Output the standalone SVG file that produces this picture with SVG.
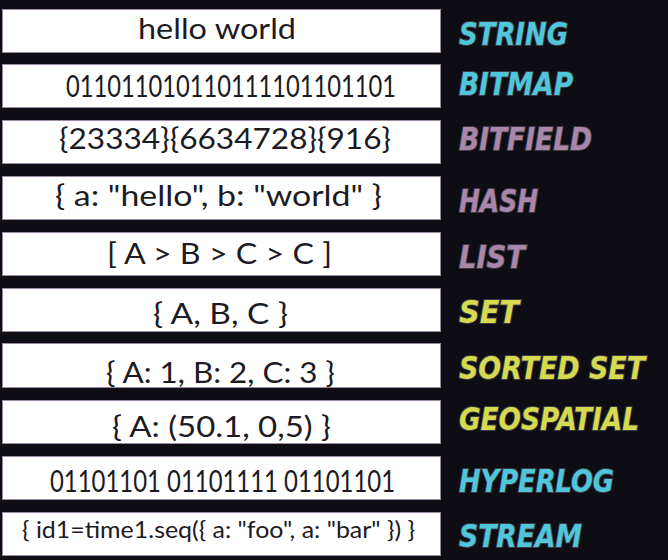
<svg xmlns="http://www.w3.org/2000/svg" width="668" height="560" viewBox="0 0 668 560">
<style>
.box{fill:#ffffff;stroke:#9c8aa2;stroke-width:1}
.val{font-family:"Lato","Liberation Sans",sans-serif;font-size:29px;fill:#1c1a22}
.dig{font-size:27px}
.sm{font-size:23px}
.lab{font-family:"DejaVu Sans Condensed","Liberation Sans Narrow",sans-serif;font-weight:bold;font-style:italic;font-size:32px;stroke:#3c3a46;stroke-width:2;paint-order:stroke}
.cy{fill:#4fc6d9}.mv{fill:#a987a9}.yl{fill:#d6da4e}
</style>
<rect width="668" height="560" fill="#0e0d14"/>
<g id="string"><rect class="box" x="2.5" y="9.5" width="438" height="43"/><text class="val" x="138" y="39" textLength="158" lengthAdjust="spacingAndGlyphs">hello world</text><text class="lab cy" x="459" y="45" textLength="109" lengthAdjust="spacingAndGlyphs">STRING</text></g>
<g id="bitmap"><rect class="box" x="2.5" y="64.5" width="438" height="43"/><text class="val dig" x="66" y="97" transform="translate(0,97) scale(1,1.15) translate(0,-97)" textLength="330" lengthAdjust="spacingAndGlyphs">011011010110111101101101</text><text class="lab cy" x="459" y="95" textLength="114" lengthAdjust="spacingAndGlyphs">BITMAP</text></g>
<g id="bitfield"><rect class="box" x="2.5" y="120.5" width="438" height="43"/><text class="val" x="59" y="149" textLength="332" lengthAdjust="spacingAndGlyphs">{23334}{6634728}{916}</text><text class="lab mv" x="459" y="150" textLength="133" lengthAdjust="spacingAndGlyphs">BITFIELD</text></g>
<g id="hash"><rect class="box" x="2.5" y="176.5" width="438" height="43"/><text class="val" x="55" y="206" textLength="327" lengthAdjust="spacingAndGlyphs">{ a: "hello", b: "world" }</text><text class="lab mv" x="459" y="212" textLength="79" lengthAdjust="spacingAndGlyphs">HASH</text></g>
<g id="list"><rect class="box" x="2.5" y="232.5" width="438" height="43"/><text class="val" x="107" y="264" textLength="225" lengthAdjust="spacingAndGlyphs">[ A &gt; B &gt; C &gt; C ]</text><text class="lab mv" x="459" y="268" textLength="66" lengthAdjust="spacingAndGlyphs">LIST</text></g>
<g id="set"><rect class="box" x="2.5" y="288.5" width="438" height="43"/><text class="val" x="153" y="324" textLength="135" lengthAdjust="spacingAndGlyphs">{ A, B, C }</text><text class="lab yl" x="459" y="323" textLength="60" lengthAdjust="spacingAndGlyphs">SET</text></g>
<g id="sortedset"><rect class="box" x="2.5" y="343.5" width="438" height="44"/><text class="val" x="106" y="383" textLength="229" lengthAdjust="spacingAndGlyphs">{ A: 1, B: 2, C: 3 }</text><text class="lab yl" x="459" y="379" textLength="186" lengthAdjust="spacingAndGlyphs">SORTED SET</text></g>
<g id="geospatial"><rect class="box" x="2.5" y="400.5" width="438" height="43"/><text class="val" x="112" y="437" textLength="219" lengthAdjust="spacingAndGlyphs">{ A: (50.1, 0,5) }</text><text class="lab yl" x="459" y="430" textLength="180" lengthAdjust="spacingAndGlyphs">GEOSPATIAL</text></g>
<g id="hyperlog"><rect class="box" x="2.5" y="456.5" width="438" height="43"/><text class="val dig" x="50" y="492" transform="translate(0,492) scale(1,1.15) translate(0,-492)" textLength="345" lengthAdjust="spacingAndGlyphs">01101101 01101111 01101101</text><text class="lab cy" x="459" y="492" textLength="155" lengthAdjust="spacingAndGlyphs">HYPERLOG</text></g>
<g id="stream"><rect class="box" x="2.5" y="512.5" width="438" height="43"/><text class="val sm" x="22" y="538" textLength="393" lengthAdjust="spacingAndGlyphs">{ id1=time1.seq({ a: "foo", a: "bar" }) }</text><text class="lab cy" x="459" y="547" textLength="123" lengthAdjust="spacingAndGlyphs">STREAM</text></g>
<g id="connectors"></g>
</svg>
